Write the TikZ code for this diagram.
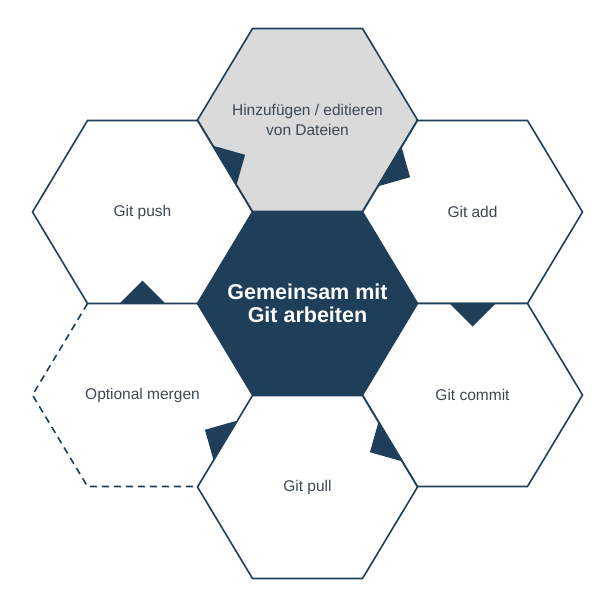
\documentclass[tikz,border=0pt]{standalone}
\usepackage{fontspec}
\setmainfont{Liberation Sans}
\usetikzlibrary{calc,backgrounds}
\definecolor{hexblue}{RGB}{31,62,90}
\definecolor{hexgrey}{RGB}{218,218,218}
\definecolor{labelgrey}{RGB}{62,72,84}

\begin{document}
\begin{tikzpicture}[x=1pt,y=-1pt,
    hexline/.style={draw=hexblue,line width=1.6pt},
    hextext/.style={text=labelgrey,align=center,font=\fontsize{15.5}{19.3}\selectfont},
    coretext/.style={text=white,align=center,font=\bfseries\fontsize{21.5}{23.3}\selectfont}]
  \useasboundingbox (0,0) rectangle (599,589);
  \node[coretext] (core) at (307.5,303.5) {Gemeinsam mit\\Git arbeiten};
  \node[hextext] (edit) at (307.5,120) {Hinzufügen / editieren\\von Dateien};
  \node[hextext] (push) at (142.5,212) {Git push};
  \node[hextext] (add) at (472.5,212) {Git add};
  \node[hextext] (commit) at (472.5,395) {Git commit};
  \node[hextext] (pull) at (307.5,487) {Git pull};
  \node[hextext] (merge) at (142.5,395) {Optional mergen};
  \begin{scope}[on background layer]
    \foreach \h/\f in {core/hexblue,edit/hexgrey,push/white,add/white,commit/white,pull/white}
      \filldraw[hexline,fill=\f,shift={(\h.center)}] (-110,0) -- (-55,-91.5) -- (55,-91.5) -- (110,0) -- (55,91.5) -- (-55,91.5) -- cycle;
    \draw[hexline,dash pattern=on 7pt off 5pt,shift={(merge.center)}] (-55,-91.5) -- (-110,0) -- (-55,91.5) -- (55,91.5);
    \foreach \s/\d in {push/edit,edit/add,add/commit,commit/pull,pull/merge,merge/push} {
      \coordinate (mid) at ($(\s.center)!0.5!(\d.center)$);
      \fill[hexblue] ($(mid)!23pt!90:(\d.center)$) -- ($(mid)!23pt!(\d.center)$) -- ($(mid)!23pt!-90:(\d.center)$) -- cycle;
    }
  \end{scope}
\end{tikzpicture}
\end{document}
